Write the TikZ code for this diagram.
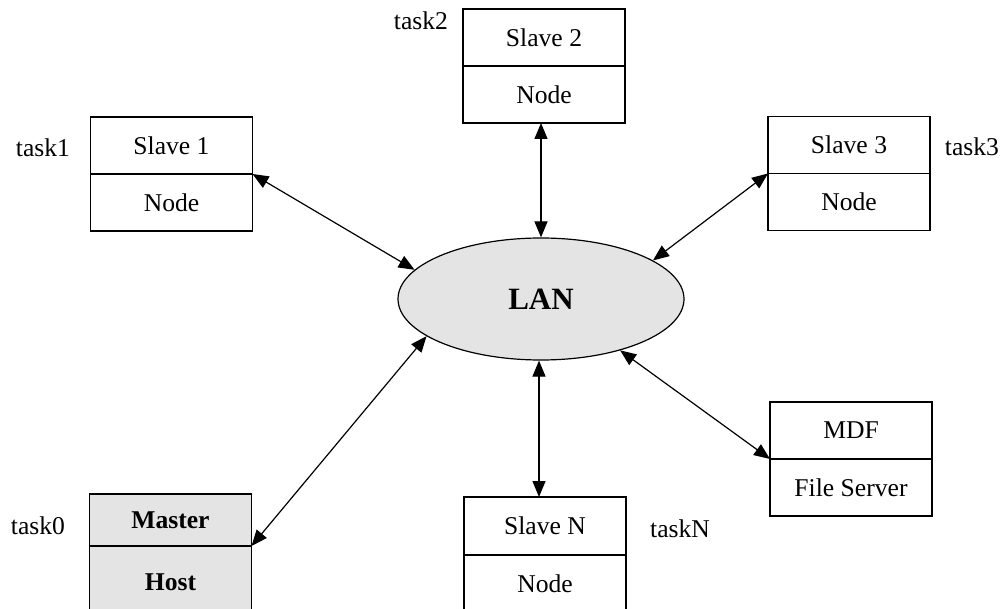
\documentclass[tikz,border=0pt]{standalone}
\usepackage{fontspec}
\setmainfont{Liberation Serif}
\usetikzlibrary{arrows.meta,shapes.geometric,positioning}
\definecolor{lanfill}{RGB}{228,228,228}
\tikzset{
  cell/.style={draw, line width=1.2pt, minimum width=162pt, minimum height=57pt,
    inner sep=0pt, outer sep=0pt, font=\fontsize{25.6pt}{30pt}\selectfont},
  hostcell/.style={cell, fill=lanfill, font=\fontsize{25.6pt}{30pt}\selectfont\bfseries},
  tasklabel/.style={inner sep=0pt, font=\fontsize{25.6pt}{30pt}\selectfont},
  link/.style={line width=1.2pt, {Triangle[length=16pt,width=13pt]}-{Triangle[length=16pt,width=13pt]}},
}
\begin{document}
\begin{tikzpicture}[x=1pt, y=-1pt]
\useasboundingbox (0,0) rectangle (1003,609);
\clip (0,0) rectangle (1003,609);

% central network
\node[draw, ellipse, line width=1.2pt, fill=lanfill, minimum width=286pt, minimum height=122pt,
      inner sep=0pt, font=\fontsize{31pt}{36pt}\selectfont\bfseries] (lan) at (541,299) {LAN};

% slave 1
\node[cell] (s1t) at (171.5,145.5) {Slave 1};
\node[cell, below=0pt of s1t] (s1b) {Node};
\node[tasklabel] (t1) at (43,148) {task1};

% slave 2
\node[cell] (s2t) at (544,37.5) {Slave 2};
\node[cell, below=0pt of s2t] (s2b) {Node};
\node[tasklabel] (t2) at (421,21) {task2};

% slave 3
\node[cell] (s3t) at (849,145) {Slave 3};
\node[cell, below=0pt of s3t] (s3b) {Node};
\node[tasklabel] (t3) at (972,147) {task3};

% file server
\node[cell] (mt1) at (851,430.5) {MDF};
\node[cell, below=0pt of mt1] (mb1) {File Server};

% slave N
\node[cell, minimum height=58pt] (snt) at (545,526) {Slave N};
\node[cell, minimum height=58pt, below=0pt of snt] (snb) {Node};
\node[tasklabel] (tn) at (680,529) {taskN};

% master host
\node[hostcell, minimum height=52pt] (mht) at (170.5,520) {Master};
\node[hostcell, minimum height=72pt, below=0pt of mht] (mhb) {Host};
\node[tasklabel] (t0) at (38,526) {task0};

% connections
\draw[link] (s1t.south east) -- (lan.167);
\draw[link] (s2b.south -| lan.north) -- (lan.north);
\draw[link] (s3t.south west) -- (lan.19);
\draw[link] (mb1.north west) -- (lan.-33);
\draw[link] ([xshift=-2pt]snt.north -| lan.south) -- ([xshift=-2pt]lan.south);
\draw[link] (mht.south east) -- (lan.198.5);
\end{tikzpicture}
\end{document}
